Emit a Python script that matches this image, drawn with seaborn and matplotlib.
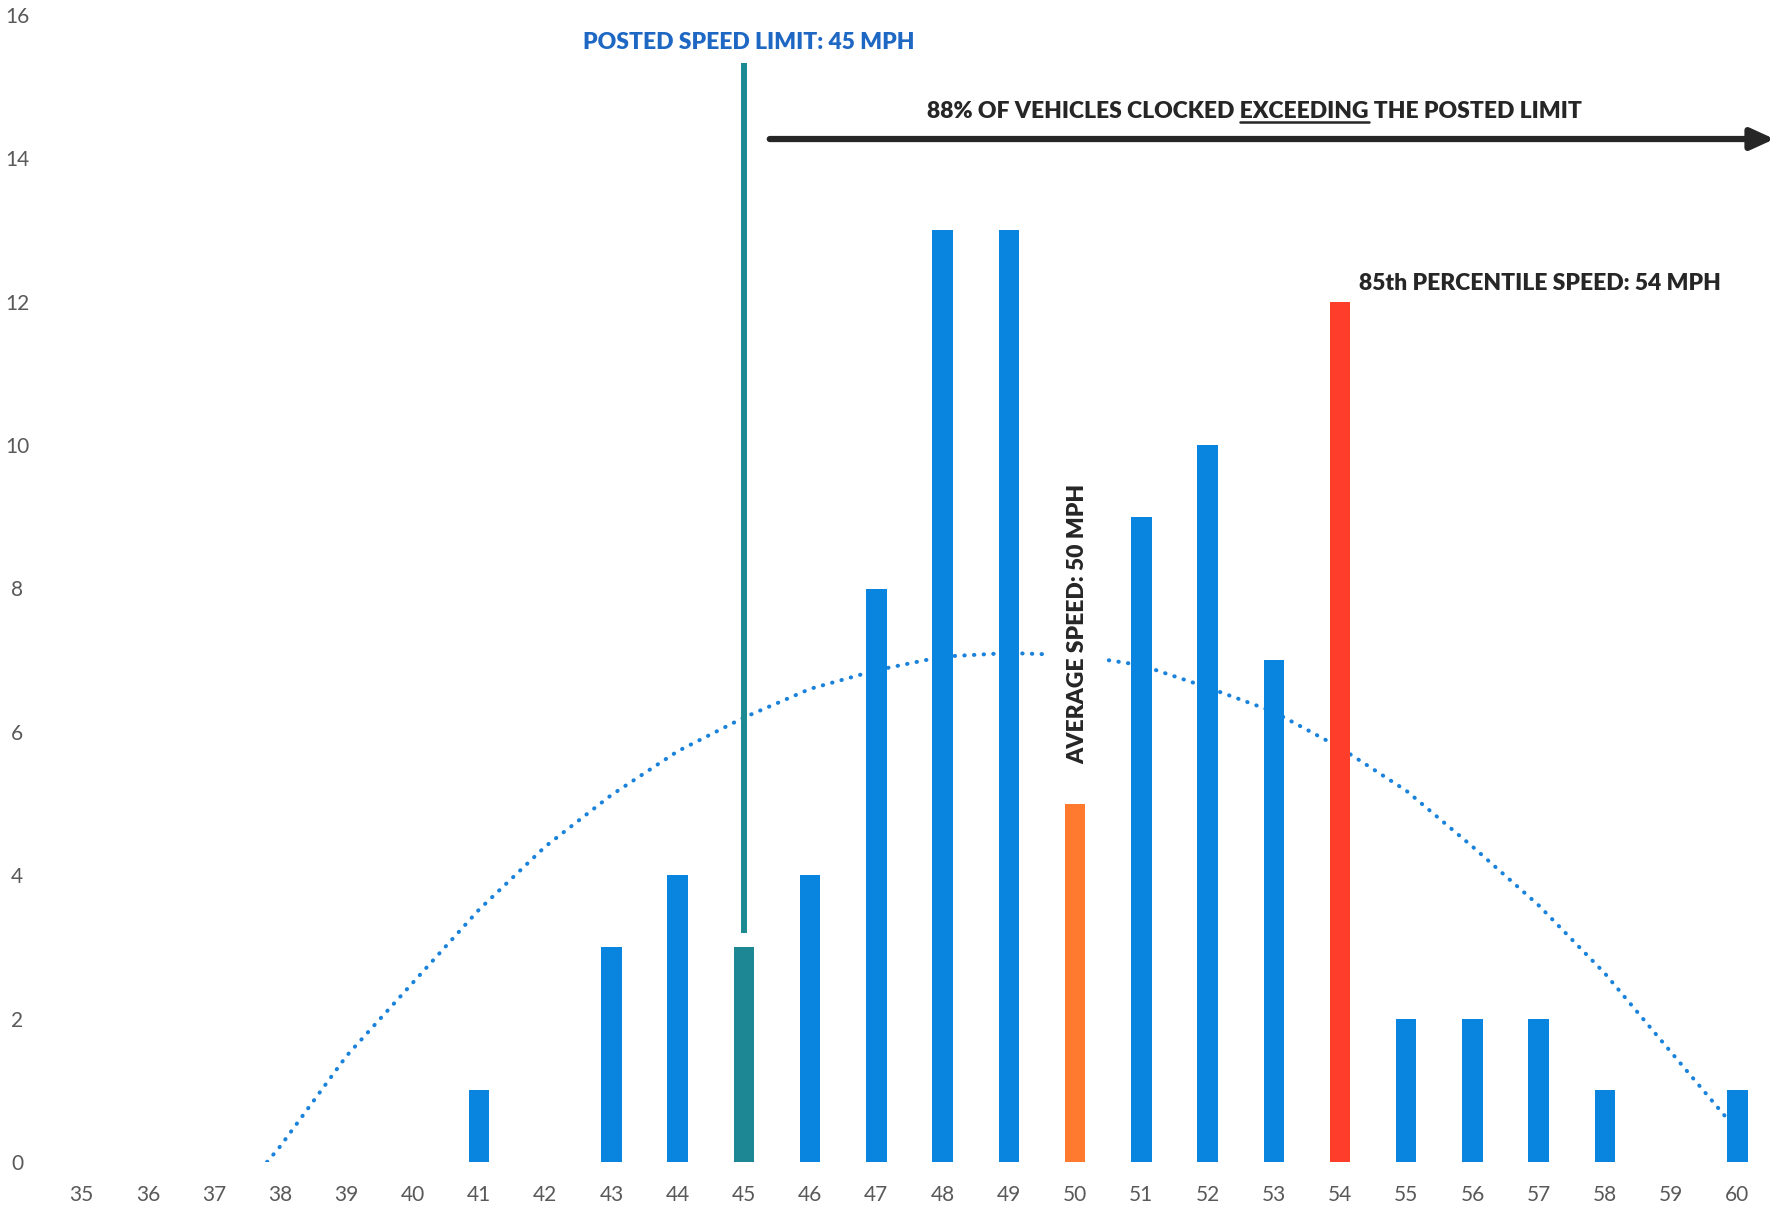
import matplotlib
matplotlib.use("Agg")
import matplotlib.pyplot as plt
from matplotlib.lines import Line2D
import numpy as np
import pandas as pd
import seaborn as sns

# Speed survey: number of vehicles clocked at each speed (mph)
speeds = [35, 36, 37, 38, 39, 40, 41, 42, 43, 44, 45, 46, 47,
          48, 49, 50, 51, 52, 53, 54, 55, 56, 57, 58, 59, 60]
counts = [0, 0, 0, 0, 0, 0, 1, 0, 3, 4, 3, 4, 8,
          13, 13, 5, 9, 10, 7, 12, 2, 2, 2, 1, 0, 1]

# Trend line through the distribution
trend_x = [37.8, 38, 39, 40, 41, 42, 43, 44, 45, 46, 47, 48, 49,
           50, 51, 52, 53, 54, 55, 56, 57, 58, 59, 59.85]
trend_y = [0.0, 0.22, 1.48, 2.5, 3.52, 4.4, 5.12, 5.73, 6.2, 6.6, 6.86, 7.05, 7.1,
           7.07, 6.93, 6.62, 6.28, 5.78, 5.18, 4.4, 3.58, 2.63, 1.53, 0.6]

posted_limit = 45
average_speed = 50
pct85_speed = 54
share_exceeding = 88

y_ticks = [0, 2, 4, 6, 8, 10, 12, 14, 16]

BLUE = "#0984DF"
TEAL = "#1D8794"
ORANGE = "#FF7A2F"
RED = "#FF3D2B"
LABEL_BLUE = "#1E68C4"
DARK = "#262626"
GREY = "#595959"

sns.set_theme(style="white")
plt.rcParams["font.family"] = ["Lato", "DejaVu Sans"]

W, H = 1777, 1213
fig = plt.figure(figsize=(W / 100, H / 100), dpi=100)
ax = fig.add_axes([48.5 / W, 51 / H, 1722 / W, 1147 / H])


def role(s):
    if s == posted_limit:
        return "posted"
    if s == average_speed:
        return "average"
    if s == pct85_speed:
        return "p85"
    return "other"


df = pd.DataFrame({"speed": speeds, "count": counts})
df["role"] = [role(s) for s in speeds]
palette = {"other": BLUE, "posted": TEAL, "average": ORANGE, "p85": RED}

# dotted trend curve sits behind the bars
sns.lineplot(x=trend_x, y=trend_y, ax=ax, color="#1A82DA", linewidth=2.9,
             linestyle=(0, (0.1, 2.3)), dash_capstyle="round",
             sort=False, estimator=None, zorder=1)

sns.barplot(data=df, x="speed", y="count", hue="role", palette=palette,
            native_scale=True, width=0.31, dodge=False, legend=False,
            errorbar=None, saturation=1, linewidth=0, ax=ax, zorder=3)

ax.set_xlim(34.5, 60.5)
ax.set_ylim(0, 16)
ax.set_xticks(speeds)
ax.set_xticklabels([str(s) for s in speeds])
ax.set_yticks(y_ticks)
ax.set_yticklabels([str(v) for v in y_ticks])
for lbl in ax.get_yticklabels():
    lbl.set_horizontalalignment("center")
ax.tick_params(axis="x", length=0, pad=16.5, labelsize=15, labelcolor=GREY)
ax.tick_params(axis="y", length=0, pad=22.7, labelsize=15, labelcolor=GREY)
ax.set_xlabel("")
ax.set_ylabel("")
for sp in ax.spines.values():
    sp.set_visible(False)
ax.grid(False)

TXT = 16.5
WEIGHT = "heavy"

# posted speed limit marker
ax.plot([posted_limit, posted_limit], [3.19, 15.33], color="#1C8A93",
        linewidth=4.3, solid_capstyle="butt", zorder=4)
ax.text(posted_limit + 0.08, 15.52, f"POSTED SPEED LIMIT: {posted_limit} MPH",
        ha="center", va="baseline", fontsize=TXT, fontweight=WEIGHT,
        color=LABEL_BLUE)

# arrow for vehicles over the limit
ax.annotate("", xy=(60.56, 14.27), xytext=(45.39, 14.27),
            arrowprops=dict(arrowstyle="-|>,head_length=0.7,head_width=0.32",
                            lw=4.5, color=DARK, shrinkA=0, shrinkB=0,
                            mutation_scale=20),
            annotation_clip=False)
prefix = f"{share_exceeding}% OF VEHICLES CLOCKED "
word = "EXCEEDING"
suffix = " THE POSTED LIMIT"
t88 = ax.text(52.71, 14.56, prefix + word + suffix, ha="center", va="baseline",
              fontsize=TXT, fontweight=WEIGHT, color=DARK)

# 85th percentile label
ax.text(54.28, 12.16, f"85th PERCENTILE SPEED: {pct85_speed} MPH",
        ha="left", va="baseline", fontsize=TXT, fontweight=WEIGHT, color=DARK)

# average speed label, vertical, with white backing over the trend curve
ax.text(average_speed + 0.04, 7.5, f"AVERAGE SPEED: {average_speed} MPH",
        rotation=90, ha="center", va="center", fontsize=TXT, fontweight=WEIGHT,
        color=DARK, zorder=5,
        bbox=dict(facecolor="white", edgecolor="none", pad=13))

# underline the key word
fig.canvas.draw()
renderer = fig.canvas.get_renderer()
full_bb = t88.get_window_extent(renderer)


def text_width(s):
    tmp = fig.text(0, 0, s, fontsize=TXT, fontweight=WEIGHT)
    w = tmp.get_window_extent(renderer).width
    tmp.remove()
    return w


x_end = full_bb.x0 + text_width(prefix + word)
x_start = x_end - text_width(word)
y_base = ax.transData.transform((0, 14.56))[1] - 4
fig.add_artist(Line2D([x_start / W, x_end / W], [y_base / H, y_base / H],
                      transform=fig.transFigure, color=DARK, linewidth=1.8))

fig.savefig("out.png", dpi=100)
